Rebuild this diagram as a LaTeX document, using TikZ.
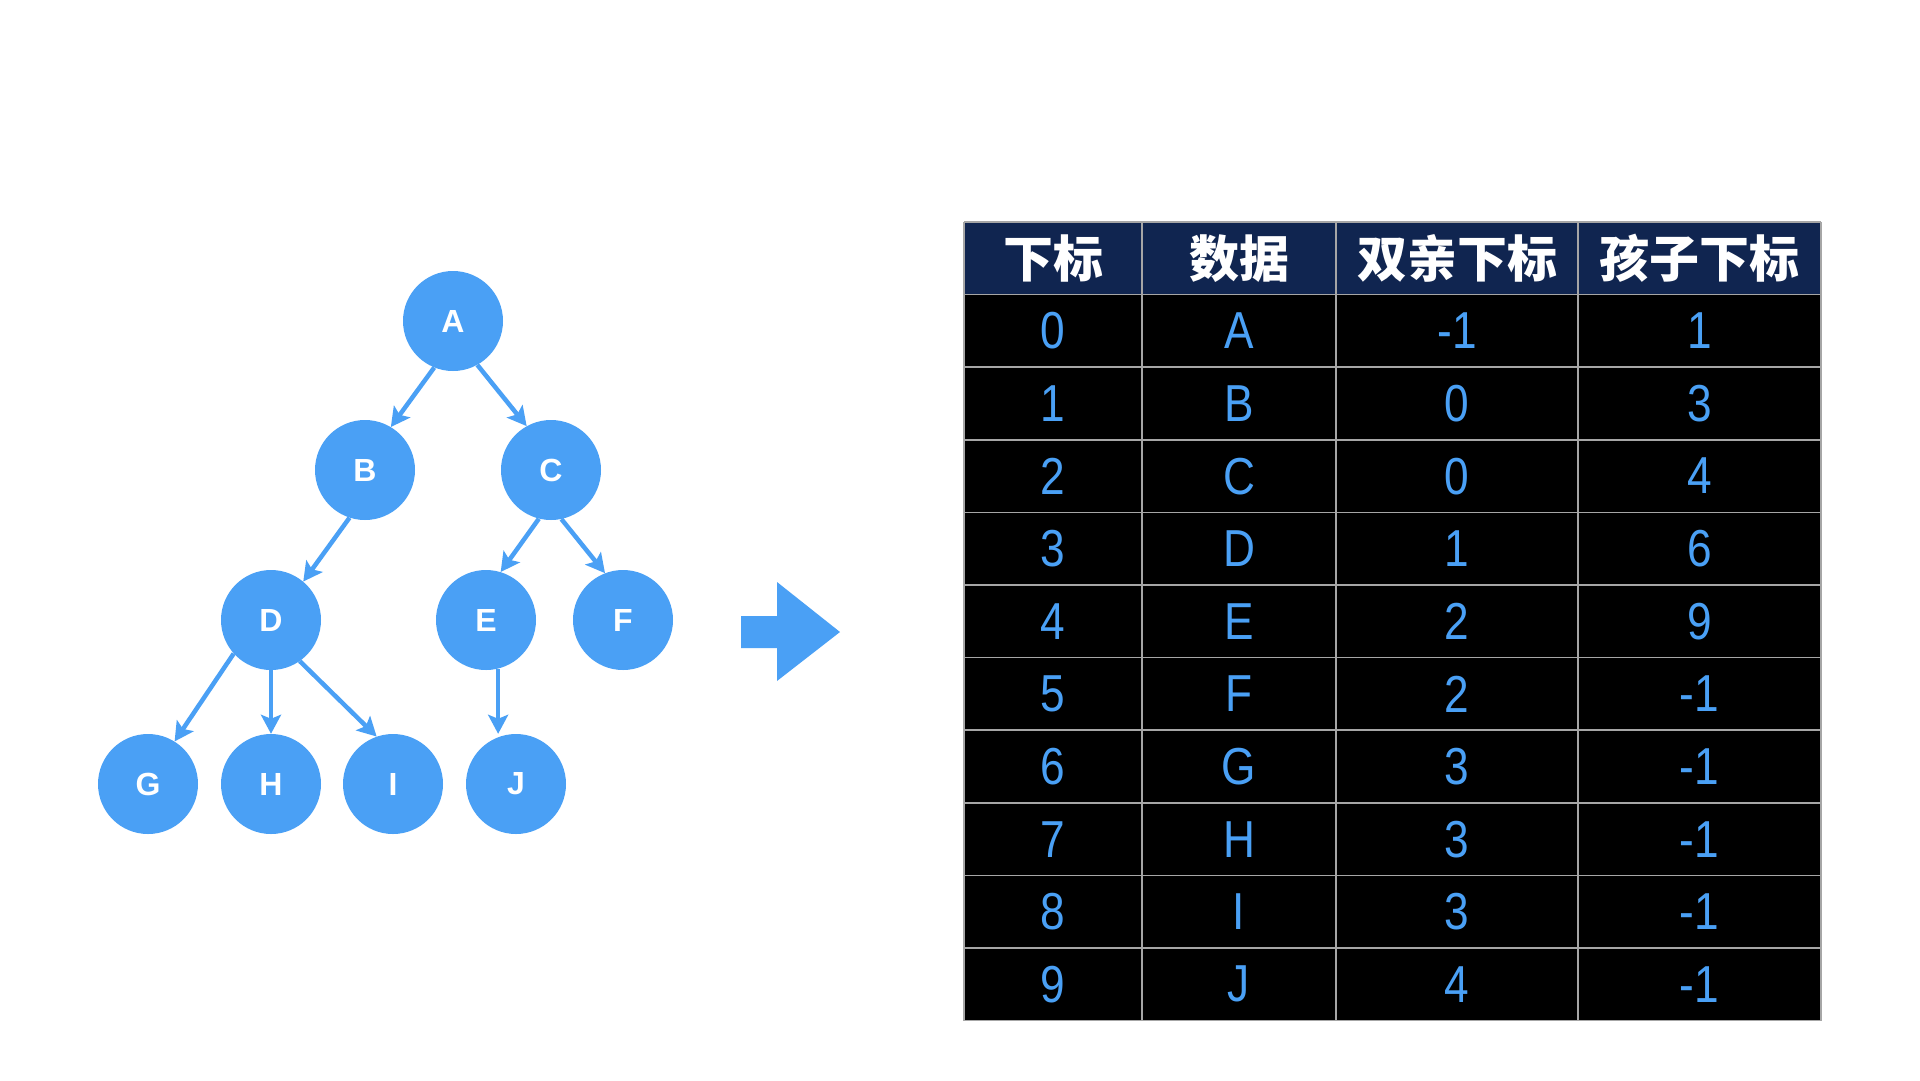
\documentclass[tikz,border=0pt]{standalone}
\usepackage{fontspec}
\setmainfont{Liberation Sans}
\newfontfamily\cjk{Noto Sans CJK SC}
\newfontfamily\numfont[FakeStretch=0.85]{Liberation Sans}
\usetikzlibrary{arrows.meta}
\definecolor{nodeblue}{RGB}{74,160,245}
\definecolor{headnavy}{RGB}{16,37,80}
\begin{document}
\begin{tikzpicture}[x=1pt,y=-1pt,
  treenode/.style={circle, fill=nodeblue, minimum size=100pt, inner sep=0pt, text=white, font=\fontsize{32}{32}\selectfont\bfseries},
  edge/.style={draw=nodeblue, line width=4.5pt, -{Stealth[length=19pt,width=20pt,inset=4pt]}},
  cell/.style={text=nodeblue, font=\numfont\fontsize{52}{52}\selectfont},
  headcell/.style={text=white, font=\cjk\bfseries\fontsize{50}{50}\selectfont},
  gridline/.style={draw=gray!70, line width=1.5pt}]
\useasboundingbox[fill=white] (0,0) rectangle (1920,1080);

% tree
\node[treenode] (A) at (453,321) {A};
\node[treenode] (B) at (365,470) {B};
\node[treenode] (C) at (551,470) {C};
\node[treenode] (D) at (271,620) {D};
\node[treenode] (E) at (486,620) {E};
\node[treenode] (F) at (623,620) {F};
\node[treenode] (G) at (148,784) {G};
\node[treenode] (H) at (271,784) {H};
\node[treenode] (I) at (393,784) {I};
\node[treenode] (J) at (516,784) {J};

\draw[edge] (A.-112) -- (B.59);
\draw[edge] (A.-61) -- (C.119);
\draw[edge] (B.-108) -- (D.50);
\draw[edge] (C.-104) -- (E.73);
\draw[edge] (C.-78) -- (F.111);
\draw[edge] (D.-138) -- (G.58);
\draw[edge] (D.south) -- (H.north);
\draw[edge] (D.-55) -- (I.109);
\draw[edge] (E.-76) -- (E.-76 |- J.north);

% big arrow
\fill[nodeblue] (741,616) -- (777,616) -- (777,582) -- (840,632) -- (777,681) -- (777,648) -- (741,648) -- cycle;

% table
\fill[headnavy] (964,222) rectangle (1821,294.6);
\fill[black] (964,294.6) rectangle (1821,1020.6);
\foreach \k in {0,...,11} {
  \draw[gridline] (964,{222+72.6*\k}) -- (1821,{222+72.6*\k});
}
\foreach \xx in {964,1142,1336,1578,1821} {
  \draw[gridline] (\xx,222) -- (\xx,1020.6);
}
\node[headcell] (h1) at (1053,258.3) {下标};
\node[headcell] (h2) at (1239,258.3) {数据};
\node[headcell] (h3) at (1457,258.3) {双亲下标};
\node[headcell] (h4) at (1699.5,258.3) {孩子下标};
\foreach \i/\d/\p/\c in {0/A/-1/1, 1/B/0/3, 2/C/0/4, 3/D/1/6, 4/E/2/9, 5/F/2/-1, 6/G/3/-1, 7/H/3/-1, 8/I/3/-1, 9/J/4/-1} {
  \node[cell] (idx\i) at (1053,{222+72.6*(\i+1.5)}) {\i};
  \node[cell] (dat\i) at (1239,{222+72.6*(\i+1.5)}) {\d};
  \node[cell] (par\i) at (1457,{222+72.6*(\i+1.5)}) {\p};
  \node[cell] (chd\i) at (1699.5,{222+72.6*(\i+1.5)}) {\c};
}
\end{tikzpicture}
\end{document}
